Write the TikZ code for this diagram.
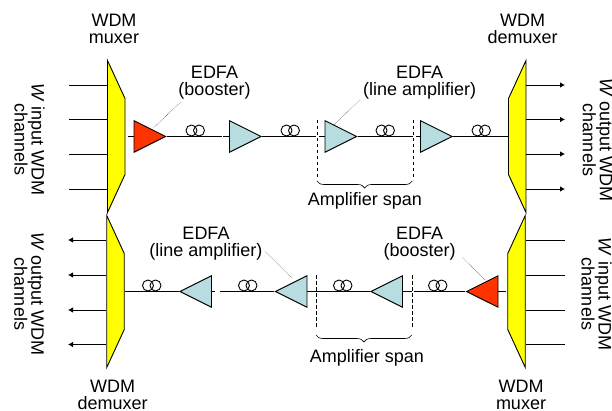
\documentclass[tikz,border=0pt]{standalone}
\usepackage{fontspec}
\setmainfont{Liberation Sans}
\usepackage{tikz}
\usetikzlibrary{arrows.meta,calc,shapes.geometric,decorations.pathreplacing}
\definecolor{muxyellow}{RGB}{255,255,0}
\definecolor{boostred}{RGB}{255,51,0}
\definecolor{amplblue}{RGB}{183,221,225}
\tikzset{
  amp/.style={isosceles triangle,isosceles triangle apex angle=53.13,draw,line width=0.9pt,
    inner sep=1pt,minimum height=31.5pt,fill=amplblue},
  booster/.style={amp,fill=boostred},
  muxer/.style={trapezium,trapezium stretches=true,trapezium angle=63.43,draw,line width=0.9pt,fill=muxyellow,
    inner sep=1pt,minimum width=152pt,minimum height=17.5pt},
  coil/.style={circle,draw,line width=0.9pt,inner sep=0pt,minimum size=11pt},
  fibre/.style={line width=1.1pt},
  wire/.style={line width=0.9pt},
  chan/.style={wire,-{Latex[length=5pt,width=5.5pt]}},
  leader/.style={densely dotted,line width=0.4pt},
  limit/.style={dashed,line width=0.9pt,dash pattern=on 3.5pt off 2.5pt},
  span/.style={decorate,decoration={brace,mirror,amplitude=7pt},line width=0.6pt},
  lbl/.style={font=\fontsize{18}{17}\selectfont,align=center,inner sep=0pt},
}
\begin{document}
\begin{tikzpicture}[x=1pt,y=-1pt,node distance=95.5pt]
  \useasboundingbox (0,0) rectangle (612,411);

  % upper link
  \node[muxer,rotate=-90] (muxA) at (116.25,136.5) {};
  \node[muxer,rotate=90] (demuxA) at (517.25,136.5) {};
  \node[booster] (boostA) at (143.5,136.5) {};
  \node[amp] (ampA1) [right of=boostA] {};
  \node[amp] (ampA2) [right of=ampA1] {};
  \node[amp] (ampA3) [right of=ampA2] {};

  % lower link
  \node[muxer,rotate=-90] (demuxB) at (115.5,291.5) {};
  \node[muxer,rotate=90] (muxB) at (516.5,291.5) {};
  \node[amp,shape border rotate=180] (ampB1) at (202,291.5) {};
  \node[amp,shape border rotate=180] (ampB2) [right of=ampB1] {};
  \node[amp,shape border rotate=180] (ampB3) [right of=ampB2] {};
  \node[booster,shape border rotate=180] (boostB) [right of=ampB3] {};

  % fibre coils
  \foreach \name/\x/\y in {cA1/191.5/130.5,cA2/286.5/130.5,cA3/381.5/130.5,cA4/477.5/130.5,
      cB1/148/285.5,cB2/244/285.5,cB3/339/285.5,cB4/434/285.5} {
    \node[coil] (\name a) at (\x,\y) {};
    \node[coil] (\name b) at (\x+7.5,\y) {};
  }

  % gaps in the upper line
  \coordinate (stubA) at (127.7,136.5);
  \coordinate (gapA1) at (221.7,136.5);
  \coordinate (gapA2) at (223.4,136.5);
  \coordinate (gapA3) at (316,136.5);
  \coordinate (gapA4) at (319,136.5);
  \coordinate (gapA5) at (413,136.5);
  \coordinate (gapA6) at (416,136.5);
  \draw[fibre] (stubA) -- (boostA);
  \draw[fibre] (boostA.apex) -- (gapA1);
  \draw[fibre] (gapA2) -- (ampA1);
  \draw[fibre] (ampA1.apex) -- (gapA3);
  \draw[fibre] (gapA4) -- (ampA2);
  \draw[fibre] (ampA2.apex) -- (gapA5);
  \draw[fibre] (gapA6) -- (ampA3);
  \draw[fibre] (ampA3.apex) -- (demuxA.north);

  % gaps in the lower line
  \coordinate (gapB1) at (215,291.5);
  \coordinate (gapB2) at (219.5,291.5);
  \coordinate (gapB3) at (411.5,291.5);
  \coordinate (gapB4) at (413.5,291.5);
  \coordinate (stubB) at (506,291.5);
  \draw[wire] (demuxB.north) -- (ampB1.apex);
  \draw[wire] (ampB1) -- (gapB1);
  \draw[wire] (gapB2) -- (ampB2.apex);
  \draw[wire] (ampB2) -- (ampB3.apex);
  \draw[wire] (ampB3) -- (gapB3);
  \draw[wire] (gapB4) -- (boostB.apex);
  \draw[wire] (boostB) -- (stubB);

  % channels
  \foreach \i/\y in {1/85,2/119.5,3/154,4/189} {
    \coordinate (inA\i) at (69,\y);
    \coordinate (outA\i) at (565,\y);
    \draw[wire] (inA\i) -- (inA\i -| muxA.south);
    \draw[chan] (outA\i -| demuxA.south) -- (outA\i);
  }
  \foreach \i/\y in {1/240,2/275,3/310,4/344.5} {
    \coordinate (outB\i) at (68,\y);
    \coordinate (inB\i) at (564.5,\y);
    \draw[chan] (outB\i -| demuxB.south) -- (outB\i);
    \draw[wire] (inB\i -| muxB.south) -- (inB\i);
  }

  % amplifier spans
  \coordinate (limA1t) at (317,120);
  \coordinate (limA1b) at (317,180);
  \coordinate (limA2t) at (413.3,120);
  \coordinate (limA2b) at (413.3,180);
  \draw[limit] (limA1t) -- (limA1b);
  \draw[limit] (limA2t) -- (limA2b);
  \draw[span] ([yshift=-1pt]limA1b) -- ([xshift=-1pt,yshift=-1pt]limA2b);
  \node[lbl] (spanA) at (365,201) {Amplifier span};

  \coordinate (limB1t) at (316,275);
  \coordinate (limB1b) at (316,327);
  \coordinate (limB2t) at (412.7,275);
  \coordinate (limB2b) at (412.7,327);
  \draw[limit] (limB1t) -- (limB1b);
  \draw[limit] (limB2t) -- (limB2b);
  \draw[span] ([yshift=-8pt]limB1b) -- ([xshift=-1pt,yshift=-8pt]limB2b);
  \node[lbl] (spanB) at (367,358) {Amplifier span};

  % labels
  \node[lbl] (nameA1) at (114,29) {WDM\\muxer};
  \node[lbl] (nameA2) at (522.7,29) {WDM\\demuxer};
  \node[lbl] (nameB1) at (112.7,395) {WDM\\demuxer};
  \node[lbl] (nameB2) at (521,395) {WDM\\muxer};
  \node[lbl] (edfaA1) at (214.5,83) {EDFA\\(booster)};
  \node[lbl] (edfaA2) at (419.7,83) {EDFA\\(line amplifier)};
  \node[lbl] (edfaB1) at (206,243.5) {EDFA\\(line amplifier)};
  \node[lbl] (edfaB2) at (419.7,243.5) {EDFA\\(booster)};
  \node[lbl,rotate=-90] (sideA1) at (29.5,139.5) {\textit{W} input WDM\\channels};
  \node[lbl,rotate=-90] (sideA2) at (597.5,140) {\textit{W} output WDM\\channels};
  \node[lbl,rotate=-90] (sideB1) at (29,294) {\textit{W} output WDM\\channels};
  \node[lbl,rotate=-90] (sideB2) at (596.5,294) {\textit{W} input WDM\\channels};

  % leaders
  \coordinate (leadA1) at (181,102);
  \coordinate (leadA2) at (360,100);
  \coordinate (leadB1) at (265,251.7);
  \coordinate (leadB2) at (462.7,257.7);
  \coordinate (tipA1) at (153,128);
  \coordinate (tipA2) at (334,125);
  \coordinate (tipB1) at (291.7,277.7);
  \coordinate (tipB2) at (485,280);
  \draw[leader] (leadA1) -- (tipA1);
  \draw[leader] (leadA2) -- (tipA2);
  \draw[leader] (leadB1) -- (tipB1);
  \draw[leader] (leadB2) -- (tipB2);
\end{tikzpicture}
\end{document}
